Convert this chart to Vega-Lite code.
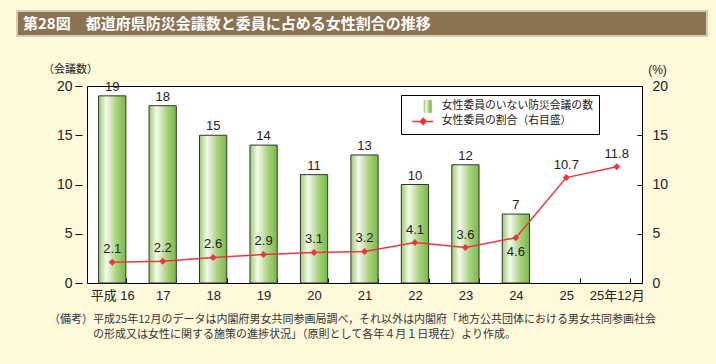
{
  "$schema": "https://vega.github.io/schema/vega-lite/v6.json",
  "background": "#FFF9DC",
  "padding": {"left": 16, "top": 10, "right": 8, "bottom": 30},
  "bounds": "flush",
  "spacing": 50,
  "config": {"view": {"stroke": null}, "font": "Noto Sans CJK JP"},
  "title": {
    "text": "の形成又は女性に関する施策の進捗状況」（原則として各年４月１日現在）より作成。",
    "orient": "bottom",
    "anchor": "start",
    "frame": "bounds",
    "dx": 77,
    "offset": 3,
    "fontSize": 11,
    "fontWeight": "normal",
    "color": "#333333",
    "font": "Noto Sans CJK JP"
  },
  "resolve": {"scale": {"color": "independent"}, "legend": {"color": "independent"}},
  "vconcat": [
    {
      "width": 690,
      "height": 25,
      "data": {"values": [{"t": "第28図　都道府県防災会議数と委員に占める女性割合の推移"}]},
      "layer": [
        {"mark": {"type": "rect", "fill": "#8B7352", "stroke": "#D3CAB3", "strokeWidth": 2}},
        {
          "mark": {"type": "text", "align": "left", "baseline": "middle", "dx": 6, "color": "#ffffff", "fontSize": 15, "fontWeight": "bold", "font": "Noto Sans CJK JP"},
          "encoding": {
            "x": {"datum": 0, "type": "quantitative", "scale": {"domain": [0, 1]}, "axis": null},
            "text": {"field": "t", "type": "nominal"}
          }
        }
      ]
    },
    {
      "bounds": "flush",
      "spacing": 20,
      "resolve": {"scale": {"color": "independent"}, "legend": {"color": "independent"}},
      "hconcat": [
        {
          "width": 50,
          "height": 197,
          "data": {"values": [{"k": 1}]},
          "mark": {"type": "text"},
          "encoding": {"text": {"value": ""}}
        },
        {
          "width": 555,
          "height": 197,
          "view": {"stroke": "#000000", "strokeWidth": 1, "fill": "#ffffff"},
          "title": {
            "text": "（備考）平成25年12月のデータは内閣府男女共同参画局調べ，それ以外は内閣府「地方公共団体における男女共同参画社会",
            "orient": "bottom",
            "anchor": "start",
            "frame": "group",
            "dx": -38,
            "offset": 12,
            "fontSize": 11,
            "fontWeight": "normal",
            "color": "#333333",
            "font": "Noto Sans CJK JP"
          },
          "data": {
            "values": [
              {"year": "平成 16", "count": 19, "pct": 2.1},
              {"year": "17", "count": 18, "pct": 2.2},
              {"year": "18", "count": 15, "pct": 2.6},
              {"year": "19", "count": 14, "pct": 2.9},
              {"year": "20", "count": 11, "pct": 3.1},
              {"year": "21", "count": 13, "pct": 3.2},
              {"year": "22", "count": 10, "pct": 4.1},
              {"year": "23", "count": 12, "pct": 3.6},
              {"year": "24", "count": 7, "pct": 4.6},
              {"year": "25", "count": null, "pct": 10.7},
              {"year": "25年12月", "count": null, "pct": 11.8}
            ]
          },
          "layer": [
            {
              "encoding": {
                "x": {
                  "field": "year", "type": "ordinal", "sort": null,
                  "scale": {"paddingInner": 0.46, "paddingOuter": 0.23},
                  "axis": {
                    "title": null, "orient": "bottom", "domain": false, "tickBand": "extent",
                    "tickSize": 5, "offset": -5, "tickColor": "#000000", "labelPadding": 6,
                    "labelFontSize": 13, "labelColor": "#222222", "labelAngle": 0,
                    "labelFont": "Liberation Sans, Noto Sans CJK JP"
                  }
                },
                "y": {
                  "field": "count", "type": "quantitative",
                  "scale": {"domain": [0, 20]},
                  "axis": {
                    "orient": "left", "title": "（会議数）", "titleAngle": 0, "titleX": -12, "titleY": -17,
                    "titleAlign": "center", "titleBaseline": "middle", "titleFontSize": 11,
                    "titleFontWeight": "normal", "titleFont": "Noto Sans CJK JP", "titleColor": "#222222",
                    "domain": false, "grid": false, "offset": 5, "tickSize": 7, "tickColor": "#000000",
                    "labelPadding": 3, "labelFontSize": 14, "labelFont": "Liberation Sans",
                    "labelColor": "#222222", "values": [0, 5, 10, 15, 20]
                  }
                }
              },
              "layer": [
                {
                  "mark": {"type": "bar", "stroke": "#333333", "strokeWidth": 1},
                  "encoding": {
                    "color": {
                      "datum": "女性委員のいない防災会議の数", "type": "nominal",
                      "scale": {
                        "domain": ["女性委員のいない防災会議の数", "女性委員の割合（右目盛）"],
                        "range": [
                          {"expr": "{gradient: 'linear', x1: 0, y1: 0, x2: 1, y2: 0, stops: [{offset: 0, color: '#9dcb70'}, {offset: 0.28, color: '#f4f9ec'}, {offset: 0.65, color: '#a9d37f'}, {offset: 1, color: '#78b947'}]}"},
                          "#E8383D"
                        ]
                      },
                      "legend": {
                        "title": null, "orient": "none", "legendX": 314, "legendY": 9,
                        "padding": 6, "strokeColor": "#000000", "fillColor": "#ffffff",
                        "symbolSize": 225, "labelOffset": 24, "rowPadding": 0,
                        "labelFont": "Noto Sans CJK JP", "labelFontSize": 10.8, "labelColor": "#222222",
                        "encode": {
                          "symbols": {
                            "update": {
                              "shape": {"signal": "datum.value === '女性委員の割合（右目盛）' ? 'M-0.03,0L2.77,0M1.43,-0.4L1.83,0L1.43,0.4L1.03,0Z' : 'M1.57,-0.8L2.5,-0.8L2.5,0.8L1.57,0.8Z'"},
                              "stroke": {"signal": "datum.value === '女性委員の割合（右目盛）' ? '#E8383D' : '#333333'"},
                              "strokeWidth": {"signal": "datum.value === '女性委員の割合（右目盛）' ? 1.5 : 1"},
                              "fill": {"scale": "color", "field": "value"},
                              "opacity": {"value": 1},
                              "fillOpacity": {"value": 1}
                            }
                          }
                        }
                      }
                    }
                  }
                },
                {
                  "mark": {"type": "text", "baseline": "bottom", "dy": -2, "fontSize": 13, "font": "Liberation Sans", "color": "#222222"},
                  "encoding": {"text": {"field": "count", "type": "quantitative"}}
                }
              ]
            },
            {
              "encoding": {
                "x": {
                  "field": "year", "type": "ordinal", "sort": null,
                  "scale": {"paddingInner": 0.46, "paddingOuter": 0.23},
                  "axis": {
                    "title": null, "orient": "bottom", "domain": false, "tickBand": "extent",
                    "tickSize": 5, "offset": -5, "tickColor": "#000000", "labelPadding": 6,
                    "labelFontSize": 13, "labelColor": "#222222", "labelAngle": 0,
                    "labelFont": "Liberation Sans, Noto Sans CJK JP"
                  }
                },
                "y": {
                  "field": "pct", "type": "quantitative",
                  "scale": {"domain": [0, 20]},
                  "axis": {
                    "orient": "right", "title": "(%)", "titleAngle": 0, "titleX": 20, "titleY": -17,
                    "titleAlign": "center", "titleBaseline": "middle", "titleFontSize": 12,
                    "titleFontWeight": "normal", "titleFont": "Liberation Sans", "titleColor": "#222222",
                    "domain": false, "grid": false, "offset": -5, "tickSize": 5, "tickColor": "#000000",
                    "labelPadding": 10, "labelFontSize": 14, "labelFont": "Liberation Sans",
                    "labelColor": "#222222", "values": [0, 5, 10, 15, 20]
                  }
                }
              },
              "layer": [
                {
                  "mark": {"type": "line", "strokeWidth": 1.5},
                  "encoding": {
                    "color": {
                      "datum": "女性委員の割合（右目盛）", "type": "nominal",
                      "legend": {
                        "title": null, "orient": "none", "legendX": 314, "legendY": 9,
                        "padding": 6, "strokeColor": "#000000", "fillColor": "#ffffff",
                        "symbolSize": 225, "labelOffset": 24, "rowPadding": 0,
                        "labelFont": "Noto Sans CJK JP", "labelFontSize": 10.8, "labelColor": "#222222",
                        "encode": {
                          "symbols": {
                            "update": {
                              "shape": {"signal": "datum.value === '女性委員の割合（右目盛）' ? 'M-0.03,0L2.77,0M1.43,-0.4L1.83,0L1.43,0.4L1.03,0Z' : 'M1.57,-0.8L2.5,-0.8L2.5,0.8L1.57,0.8Z'"},
                              "stroke": {"signal": "datum.value === '女性委員の割合（右目盛）' ? '#E8383D' : '#333333'"},
                              "strokeWidth": {"signal": "datum.value === '女性委員の割合（右目盛）' ? 1.5 : 1"},
                              "fill": {"scale": "color", "field": "value"},
                              "opacity": {"value": 1},
                              "fillOpacity": {"value": 1}
                            }
                          }
                        }
                      }
                    }
                  }
                },
                {
                  "mark": {"type": "point", "shape": "diamond", "filled": true, "size": 49, "opacity": 1},
                  "encoding": {
                    "color": {
                      "datum": "女性委員の割合（右目盛）", "type": "nominal",
                      "legend": {
                        "title": null, "orient": "none", "legendX": 314, "legendY": 9,
                        "padding": 6, "strokeColor": "#000000", "fillColor": "#ffffff",
                        "symbolSize": 225, "labelOffset": 24, "rowPadding": 0,
                        "labelFont": "Noto Sans CJK JP", "labelFontSize": 10.8, "labelColor": "#222222",
                        "encode": {
                          "symbols": {
                            "update": {
                              "shape": {"signal": "datum.value === '女性委員の割合（右目盛）' ? 'M-0.03,0L2.77,0M1.43,-0.4L1.83,0L1.43,0.4L1.03,0Z' : 'M1.57,-0.8L2.5,-0.8L2.5,0.8L1.57,0.8Z'"},
                              "stroke": {"signal": "datum.value === '女性委員の割合（右目盛）' ? '#E8383D' : '#333333'"},
                              "strokeWidth": {"signal": "datum.value === '女性委員の割合（右目盛）' ? 1.5 : 1"},
                              "fill": {"scale": "color", "field": "value"},
                              "opacity": {"value": 1},
                              "fillOpacity": {"value": 1}
                            }
                          }
                        }
                      }
                    }
                  }
                },
                {
                  "transform": [{"filter": "datum.year !== '24'"}],
                  "mark": {"type": "text", "baseline": "bottom", "dy": -6, "fontSize": 13, "font": "Liberation Sans", "color": "#222222"},
                  "encoding": {"text": {"field": "pct", "type": "quantitative", "format": ".1f"}}
                },
                {
                  "transform": [{"filter": "datum.year === '24'"}],
                  "mark": {"type": "text", "baseline": "top", "dy": 8, "fontSize": 13, "font": "Liberation Sans", "color": "#222222"},
                  "encoding": {"text": {"field": "pct", "type": "quantitative", "format": ".1f"}}
                }
              ]
            }
          ],
          "resolve": {"scale": {"y": "independent"}}
        }
      ]
    }
  ]
}
